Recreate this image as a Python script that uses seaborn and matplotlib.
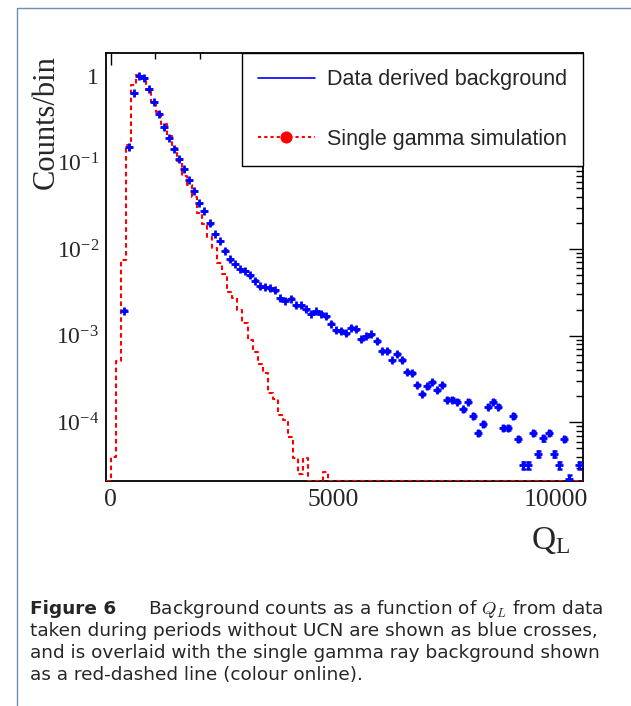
import numpy as np
import matplotlib
matplotlib.use("Agg")
import matplotlib.pyplot as plt
import seaborn as sns
from matplotlib.lines import Line2D
from matplotlib.patches import Rectangle
from matplotlib.ticker import MultipleLocator, LogLocator, NullFormatter

# ---------------- data ----------------
BIN_WIDTH = 113.6
FIRST_EDGE = -113.6

# single gamma simulation, normalised counts per bin (first bin is [-113.6, 0])
red_sim = [0, 4.0e-5, 5.1e-4, 7.4e-3, 0.16, 0.78, 1.02, 0.95, 0.68, 0.50, 0.38,
           0.28, 0.20, 0.145, 0.105, 0.070, 0.0547, 0.040, 0.0262, 0.0196, 0.0138,
           0.0104, 0.0069, 0.0052, 0.0032, 0.0027, 0.0020, 0.00141, 0.00090, 0.00065, 0.00047,
           3.66e-4, 2.15e-4, 1.88e-4, 1.21e-4, 1.06e-4, 6.8e-5, 3.9e-5, 2.5e-5, 3.9e-5, 0,
           0, 0, 2.67e-5, 0, 0, 0, 0, 0, 0, 0,
           0, 0, 0, 0, 0, 0, 0, 0, 0, 0,
           0, 0, 0, 0, 0, 0, 0, 0, 0, 0,
           0, 0, 0, 0, 0, 0, 0, 0, 0, 0,
           0, 0, 0, 0, 0, 0, 0, 0, 0, 0,
           0, 0, 0, 0]

nan = float("nan")
# data derived background, same binning, nan = empty bin
blue_data = [nan, nan, nan, 1.95e-3, 0.151, 0.637, 1.0, 0.933, 0.70, 0.497, 0.361,
             0.258, 0.191, 0.144, 0.109, 0.0837, 0.0630, 0.0468, 0.0342, 0.0274, 0.0197,
             0.0150, 0.0124, 0.0096, 0.00757, 0.00675, 0.00586, 0.00556, 0.00495, 0.00430, 0.00370,
             0.00366, 0.00351, 0.00333, 0.00271, 0.00252, 0.00266, 0.00223, 0.00223, 0.00201, 0.00180,
             0.00190, 0.00179, 0.00168, 0.00138, 0.00116, 0.00113, 0.00106, 0.00123, 0.00119, 9.04e-4,
             9.87e-4, 1.04e-3, 8.64e-4, 6.68e-4, 6.68e-4, 5.17e-4, 6.17e-4, 5.26e-4, 3.79e-4, 3.66e-4,
             2.68e-4, 2.13e-4, 2.59e-4, 2.93e-4, 2.37e-4, 2.68e-4, 1.83e-4, 1.83e-4, 1.72e-4, 1.41e-4,
             1.72e-4, 1.18e-4, 7.48e-5, 9.68e-5, 1.51e-4, 1.72e-4, 1.51e-4, 8.63e-5, 8.63e-5, 1.18e-4,
             6.44e-5, 3.20e-5, 3.20e-5, 7.55e-5, 4.28e-5, 6.5e-5, 7.55e-5, 4.28e-5, 3.2e-5, 6.44e-5,
             2.2e-5, nan, 3.2e-5]

COUNTS_SCALE = 3.85e6  # raw counts per unit of normalised value (Poisson errors)

x_ticks = [0, 5000, 10000]
x_tick_labels = ["0", "5000", "10000"]
y_ticks = [1e-4, 1e-3, 1e-2, 1e-1, 1]
y_tick_labels = [r"$\mathregular{10^{-4}}$", r"$\mathregular{10^{-3}}$",
                 r"$\mathregular{10^{-2}}$", r"$\mathregular{10^{-1}}$", "1"]

XMIN, XMAX = -110, 10600
YMIN, YMAX = 2.1e-5, 1.83

# ---------------- style ----------------
sns.set_theme(style="white")
plt.rcParams["font.family"] = ["Liberation Serif", "DejaVu Serif"]
plt.rcParams["mathtext.fontset"] = "cm"

W, H = 631, 706
fig = plt.figure(figsize=(W / 100, H / 100), dpi=100)
fig.patch.set_facecolor("white")

ax = fig.add_axes([106 / W, 1 - 481 / H, (583 - 106) / W, (481 - 53) / H])
ax.set_facecolor("white")

n_red = len(red_sim)
edges = FIRST_EDGE + np.arange(n_red + 1) * BIN_WIDTH
centers = FIRST_EDGE + (np.arange(len(blue_data)) + 0.5) * BIN_WIDTH

# red step histogram (zero bins sit on the axis floor, as ROOT draws them)
red_arr = np.array(red_sim, dtype=float)
red_plot = np.maximum(np.append(red_arr, red_arr[-1]), YMIN)
sns.lineplot(x=edges, y=red_plot, drawstyle="steps-post", color="#ff0000",
             linewidth=1.5, estimator=None, sort=False, ax=ax, zorder=3)
ax.lines[-1].set_linestyle((0, (2.2, 1.6)))

# blue points with error bars
blue_arr = np.array(blue_data, dtype=float)
blue_err = np.sqrt(blue_arr * COUNTS_SCALE) / COUNTS_SCALE
ax.errorbar(centers, blue_arr, yerr=blue_err, fmt="none", ecolor="#0000ff",
            elinewidth=1.9, capsize=1.8, capthick=1.8, zorder=4)
sns.scatterplot(x=centers, y=blue_arr, marker="+", s=32, color="#0000ff",
                linewidth=2.0, ax=ax, zorder=5)

ax.set_yscale("log")
ax.set_xlim(XMIN, XMAX)
ax.set_ylim(YMIN, YMAX)

ax.set_xticks(x_ticks)
ax.set_xticklabels(x_tick_labels)
ax.xaxis.set_minor_locator(MultipleLocator(1000))
ax.set_yticks(y_ticks)
ax.set_yticklabels(y_tick_labels)
ax.yaxis.set_minor_locator(LogLocator(base=10, subs=np.arange(2, 10)))
ax.yaxis.set_minor_formatter(NullFormatter())

ax.tick_params(axis="both", which="both", direction="in", top=True, right=True,
               color="black", width=1.0)
ax.tick_params(axis="x", which="major", length=8.6, pad=6, labelsize=18.5)
ax.tick_params(axis="x", which="minor", length=4.3)
ax.tick_params(axis="y", which="major", length=10, pad=5, labelsize=17)
ax.tick_params(axis="y", which="minor", length=5)
for s in ax.spines.values():
    s.set_color("black")
    s.set_linewidth(1.3)

ax.set_xlabel("")
ax.set_ylabel("")
fig.text(46 / W, 1 - 55 / H, "Counts/bin", rotation=90, ha="center", va="top",
         fontsize=22, family=["Liberation Serif"])
fig.text(570 / W, 1 - 540 / H, r"$\mathregular{Q_L}$", ha="right", va="center",
         fontsize=24, family=["Liberation Serif"])

# legend
handles = [Line2D([], [], color="#0000ff", lw=1.2),
           Line2D([], [], color="#ff0000", lw=1.5, linestyle=(0, (1.5, 1.5)),
                  marker="o", markersize=7.7, markerfacecolor="#ff0000",
                  markeredgecolor="#ff0000")]
labels = ["Data derived background", "Single gamma simulation"]
leg = ax.legend(handles, labels, loc="upper right", bbox_to_anchor=(1.0, 1.0),
                borderaxespad=0.0, frameon=True, fancybox=False, shadow=False,
                prop={"family": "Liberation Sans", "size": 15.5},
                handlelength=2.65, handletextpad=0.55, borderpad=0.75,
                labelspacing=1.8)
leg.get_frame().set_edgecolor("black")
leg.get_frame().set_linewidth(1.0)
leg.get_frame().set_facecolor("white")
leg.get_frame().set_alpha(1.0)

# figure frame
fig.patches.append(Rectangle((17 / W, -0.1), 1.2, (H - 8) / H + 0.1,
                             transform=fig.transFigure, fill=False,
                             edgecolor="#6d8db5", lw=1.0))

# caption
cap_fs = 13.3
cap_fam = ["DejaVu Sans"]
fig.text(30 / W, 1 - 609 / H, "Figure 6", ha="left", va="center", fontsize=cap_fs,
         weight="bold", family=cap_fam)
fig.text(603 / W, 1 - 609 / H, r"Background counts as a function of $Q_L$ from data",
         ha="right", va="center", fontsize=cap_fs, family=cap_fam)
fig.text(30 / W, 1 - 631 / H, "taken during periods without UCN are shown as blue crosses,",
         ha="left", va="center", fontsize=cap_fs, family=cap_fam)
fig.text(30 / W, 1 - 653 / H, "and is overlaid with the single gamma ray background shown",
         ha="left", va="center", fontsize=cap_fs, family=cap_fam)
fig.text(30 / W, 1 - 675 / H, "as a red-dashed line (colour online).",
         ha="left", va="center", fontsize=cap_fs, family=cap_fam)

fig.savefig("out.png", dpi=100)
